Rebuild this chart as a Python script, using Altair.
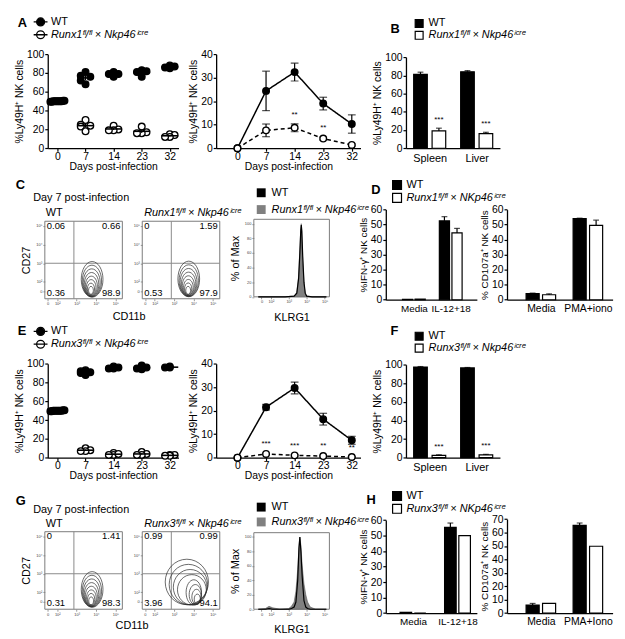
import altair as alt
import pandas as pd

S = 0.98
FONT = "Liberation Sans"


def s(v):
    return round(v * S, 2)


# ------------------------------------------------------------------ data
DAY_LABELS = ["0", "7", "14", "23", "32"]
WT = "WT"
RUNX1 = "Runx1ᶠˡ/ᶠˡ × Nkp46ⁱᶜʳᵉ"
RUNX1_K = "Runx1ᶠˡ/ᶠˡ × NKp46ⁱᶜʳᵉ"
RUNX3 = "Runx3ᶠˡ/ᶠˡ × Nkp46ⁱᶜʳᵉ"
RUNX3_K = "Runx3ᶠˡ/ᶠˡ × NKp46ⁱᶜʳᵉ"
LY49H = "%Ly49H⁺ NK cells"

# A left / E left : % Ly49H+ of NK cells, one value per mouse, per day
A_WT = [[50, 50, 50, 50, 49.5, 50.5], [81, 77, 76, 72, 68], [81, 79, 79, 76],
        [83, 82, 81, 76], [87, 86, 85, 88]]
A_KO = [[50, 50, 49.5, 50, 50.5], [30, 25, 24, 23, 18], [24, 20, 19, 19],
        [23, 17, 16, 16], [15, 14, 12, 12]]
E_WT = [[50, 50, 50, 50, 49.5, 50.5], [93, 92, 91, 90, 88], [97, 96, 95, 95],
        [98, 96, 95, 94], [97, 96, 96]]
E_KO = [[50, 50, 49.5, 50, 50.5], [10, 8, 7, 7], [5, 3, 3, 4], [6, 4, 3, 3],
        [3, 3, 2, 2]]

# A right / E right : mean and SEM
A2_WT_M = [0, 24.4, 32.4, 19.0, 10.3]
A2_WT_E = [0, 8.4, 3.8, 2.7, 3.9]
A2_KO_M = [0, 7.6, 8.7, 4.1, 1.4]
A2_KO_E = [0, 2.7, 1.7, 0.6, 0.4]
A2_STARS = ["", "", "**", "**", ""]
E2_WT_M = [0, 21.5, 29.7, 16.4, 7.4]
E2_WT_E = [0, 1.2, 2.5, 2.5, 1.7]
E2_KO_M = [0, 1.6, 1.0, 0.7, 0.3]
E2_KO_E = [0, 0.3, 0.3, 0.3, 0.2]
E2_STARS = ["", "***", "***", "**", "**"]

# B / F
ORGANS = ["Spleen", "Liver"]
B_WT, B_WT_E, B_KO, B_KO_E = [81, 84], [2.5, 1.2], [19, 16], [3.0, 1.5]
F_WT, F_WT_E, F_KO, F_KO_E = [97.5, 96.5], [0.5, 0.5], [2.5, 3.0], [0.6, 0.6]
ORGAN_STARS = ["***", "***"]

# D / H
IFN_CATS = ["Media", "IL-12+18"]
D_CD107_CATS = ["Media", "PMA+iono"]
H_CD107_CATS = ["Media", "PMA+Iono"]
D1_WT, D1_WT_E, D1_KO, D1_KO_E = [0.3, 52.5], [0, 2.8], [0.4, 44.5], [0, 3.0]
D2_WT, D2_WT_E, D2_KO, D2_KO_E = [4.0, 54.0], [0.4, 0.3], [3.3, 49.5], [0.6, 3.5]
H1_WT, H1_WT_E, H1_KO, H1_KO_E = [0.5, 55.3], [0, 2.8], [0.0, 50.0], [0, 0]
H2_WT, H2_WT_E, H2_KO, H2_KO_E = [6.0, 65.3], [1.2, 1.8], [7.3, 49.8], [0, 0]
NO_STARS = ["", ""]

# Flow: quadrant frequencies [top-left, top-right, bottom-left, bottom-right]
C_WT_Q = ["0.06", "0.66", "0.36", "98.9"]
C_KO_Q = ["0", "1.59", "0.53", "97.9"]
G_WT_Q = ["0", "1.41", "0.31", "98.3"]
G_KO_Q = ["0.99", "0.99", "3.96", "94.1"]
FLOW_X = [1.36, 5.36]        # log10 CD11b axis extent
FLOW_Y = [1.1, 5.25]         # log10 CD27 axis extent
GATE_X, GATE_Y = 2.86, 3.0
FLOW_TICKS = [1.5, 2, 3, 4, 5]
FLOW_TICK_LABELS = ["0", "10²", "10³", "10⁴", "10⁵"]

# contour rings (level 9 = outermost), centres in log10 units
RING = [9, 8, 7, 6, 5, 4, 3, 2]
C_WT_CX = [3.80, 3.79, 3.78, 3.77, 3.76, 3.75, 3.74, 3.74]
C_WT_CY = [2.14, 2.05, 1.96, 1.87, 1.78, 1.70, 1.62, 1.55]
C_KO_CX = [3.76, 3.76, 3.75, 3.75, 3.74, 3.74, 3.73, 3.73]
C_KO_CY = [2.16, 2.07, 1.98, 1.89, 1.80, 1.71, 1.63, 1.55]
G_WT_CX = [3.80, 3.79, 3.78, 3.77, 3.76, 3.76, 3.75, 3.75]
G_WT_CY = [2.16, 2.07, 1.98, 1.89, 1.80, 1.71, 1.63, 1.55]
G_KO_CX = [3.66, 3.74, 3.83, 3.92, 4.02, 4.10, 4.16, 4.20]
G_KO_CY = [2.56, 2.42, 2.28, 2.14, 2.00, 1.88, 1.76, 1.64]
TALL_FORM = ["tall"] * 8
G_KO_FORM = ["round", "round", "round", "round", "tall", "tall", "tall", "tall"]
TALL = "M-0.61,0A0.61,1,0,1,1,0.61,0A0.61,1,0,1,1,-0.61,0Z"
ROUND = "M-0.95,0A0.95,1,0,1,1,0.95,0A0.95,1,0,1,1,-0.95,0Z"

# KLRG1 histograms (% of max)
HIST_X_DOMAIN = [1.05, 5.27]
HIST_TICKS = [1.48, 2, 3, 4, 5]
C_HX = [1.3, 2.0, 2.8, 3.3, 3.45, 3.55, 3.62, 3.67, 3.7, 3.73, 3.78, 3.85, 3.92, 4.0, 4.3, 5.1]
C_H_WT = [0, 0, 0, 1, 5, 25, 60, 90, 98, 90, 55, 20, 5, 1, 0, 0]
C_H_KO = [0, 0, 0, 1, 6, 28, 65, 93, 100, 85, 50, 18, 4, 1, 0, 0]
G_HX = [1.3, 1.7, 1.9, 2.1, 2.5, 3.0, 3.15, 3.3, 3.4, 3.5, 3.57, 3.62, 3.68, 3.75,
        3.85, 3.95, 4.05, 4.2, 4.5, 5.1]
G_H_KO = [0, 1, 4, 2, 0, 1, 4, 10, 25, 55, 85, 100, 88, 60, 35, 20, 10, 3, 0, 0]
G_H_WT = [0, 0, 1, 0, 0, 0, 1, 3, 10, 40, 85, 100, 80, 45, 12, 3, 1, 0, 0, 0]


# ------------------------------------------------------------------ helpers
def geom(L, T, W, H, pl, pt, pr, pb):
    return dict(L=L, T=T, W=s(W), H=s(H), xr=[s(pl - L), s(pr - L)],
                yr=[s(pb - T), s(pt - T)], yoff=-s(pl - L), xoff=s(pb - T) - s(H))


def ax(**kw):
    base = dict(grid=False, domainColor="black", domainWidth=1.3, tickColor="black",
                tickWidth=1.2, tickSize=3, labelFont=FONT, labelFontSize=10.5,
                labelColor="black", titleFont=FONT, titleFontSize=10.5,
                titleFontWeight="normal", titleColor="black", labelPadding=1,
                titlePadding=2, labelFlush=False)
    base.update(kw)
    return alt.Axis(**base)


def tiny_ax(offset, labels, ticks, title=None, **kw):
    expr = "[" + ",".join(f"'{t}'" for t in labels) + "][indexof([" + \
        ",".join(str(v) for v in ticks) + "], datum.value)]"
    return ax(values=ticks, labelExpr=expr, labelFontSize=4, tickSize=2, tickWidth=0.6,
              domain=False, labelColor="#444", tickColor="#555", labelPadding=1,
              offset=offset, title=title, titleFontSize=11, **kw)


def cat_expr(labels):
    return "[" + ",".join(f"'{t}'" for t in labels) + "][datum.value]"


def note(t, x, y, g, size=11, weight="normal", style="normal", align="left",
         angle=0):
    return alt.Chart(pd.DataFrame({"t": [t]})).mark_text(
        font=FONT, fontSize=size, fontWeight=weight, fontStyle=style, align=align,
        baseline="middle", angle=angle, color="black"
    ).encode(x=alt.value(s(x - g["L"])), y=alt.value(s(y - g["T"])), text="t:N")


def anchor(g):
    # invisible edge that pins each row's box to its own height
    return alt.Chart(pd.DataFrame({"a": [0]})).mark_rule(opacity=0).encode(
        x=alt.value(0), y=alt.value(0), y2=alt.value(g["H"]))


def legend(g, x, y, symbol, size=64, stroke="black", sw=1.2, row_pad=3, label_offset=4):
    return alt.Legend(orient="none", legendX=s(x - g["L"]), legendY=s(y - g["T"]),
                      title=None, direction="vertical", symbolType=symbol,
                      symbolSize=size, symbolStrokeColor=stroke, symbolStrokeWidth=sw,
                      symbolOpacity=1, labelFont=FONT, labelFontSize=11,
                      labelColor="black", labelLimit=400,
                      labelFontStyle={"expr": "datum.label == 'WT' ? 'normal' : 'italic'"},
                      rowPadding=row_pad, labelOffset=label_offset, padding=0)


LINE_SYMBOL = "M-1.75,0L1.75,0M-1,0A1,1,0,1,1,1,0A1,1,0,1,1,-1,0Z"


def day_axes(g, ytitle, yvals):
    xax = ax(values=[0, 1, 2, 3, 4], labelExpr=cat_expr(DAY_LABELS),
             title="Days post-infection", offset=g["xoff"], labelPadding=0,
             titlePadding=0)
    yax = ax(values=yvals, title=ytitle, offset=g["yoff"])
    return xax, yax


def dot_panel(wt, ko, ko_label, g, leg):
    rows = []
    for geno, series in ((ko_label, ko), (WT, wt)):
        for i, vals in enumerate(series):
            for v in vals:
                rows.append({"geno": geno, "idx": i, "v": v})
    df = pd.DataFrame(rows)
    xs = alt.Scale(domain=[-0.345, 4.31], range=g["xr"], nice=False, zero=False)
    ys = alt.Scale(domain=[0, 100], range=g["yr"], nice=False)
    xax, yax = day_axes(g, LY49H, [0, 20, 40, 60, 80, 100])
    fills = alt.Scale(domain=[WT, ko_label], range=["black", "white"])
    base = alt.Chart(df)
    pts = base.transform_window(
        rank="row_number()", groupby=["geno", "idx"], sort=[alt.SortField("v")]
    ).transform_window(
        cnt="count()", groupby=["geno", "idx"], frame=[None, None]
    ).transform_calculate(
        xj="datum.idx + (datum.idx == 0 ? (datum.rank - (datum.cnt + 1) / 2) * 0.1 : "
           "((datum.rank == 1 || datum.rank == datum.cnt) ? 0 : "
           "(datum.rank % 2 == 0 ? -0.17 : 0.17)))"
    ).mark_point(shape="circle", size=46, stroke="black", strokeWidth=1.3, opacity=1).encode(
        x=alt.X("xj:Q", scale=xs, axis=xax),
        y=alt.Y("v:Q", scale=ys, axis=yax),
        fill=alt.Fill("geno:N", scale=fills, legend=leg),
    )
    mean = base.transform_aggregate(
        m="mean(v)", se="stderr(v)", groupby=["geno", "idx"]
    ).transform_calculate(
        x1="datum.idx - 0.3", x2="datum.idx + 0.3",
        lo="datum.m - datum.se", hi="datum.m + datum.se")
    sem = mean.mark_rule(color="black", strokeWidth=1.1).encode(
        x=alt.X("idx:Q", scale=xs, axis=xax), y=alt.Y("lo:Q", scale=ys, axis=yax),
        y2="hi:Q")
    mline = mean.mark_rule(color="black", strokeWidth=1.6).encode(
        x=alt.X("x1:Q", scale=xs, axis=xax), x2="x2:Q",
        y=alt.Y("m:Q", scale=ys, axis=yax))
    return pts + sem + mline


def line_panel(wm, we, km, ke, stars, ko_label, g):
    df = pd.DataFrame({"geno": [WT] * 5 + [ko_label] * 5, "idx": list(range(5)) * 2,
                       "m": wm + km, "e": we + ke, "star": [""] * 5 + stars})
    xs = alt.Scale(domain=[-0.746, 4.305], range=g["xr"], nice=False, zero=False)
    ys = alt.Scale(domain=[0, 40], range=g["yr"], nice=False)
    xax, yax = day_axes(g, LY49H, [0, 10, 20, 30, 40])
    base = alt.Chart(df).transform_calculate(lo="datum.m - datum.e", hi="datum.m + datum.e")
    X = alt.X("idx:Q", scale=xs, axis=xax)
    line = base.mark_line(color="black", strokeWidth=1.5).encode(
        x=X, y=alt.Y("m:Q", scale=ys, axis=yax),
        strokeDash=alt.StrokeDash("geno:N", scale=alt.Scale(domain=[WT, ko_label],
                                  range=[[1, 0], [4, 3]]), legend=None))
    eb = base.transform_filter("datum.e > 0")
    err = eb.mark_rule(color="black", strokeWidth=1.2).encode(
        x=X, y=alt.Y("lo:Q", scale=ys, axis=yax), y2="hi:Q")
    cap_hi = eb.mark_tick(orient="horizontal", size=s(8), thickness=1.2, color="black").encode(
        x=X, y=alt.Y("hi:Q", scale=ys, axis=yax))
    cap_lo = eb.mark_tick(orient="horizontal", size=s(8), thickness=1.2, color="black").encode(
        x=X, y=alt.Y("lo:Q", scale=ys, axis=yax))
    pts = base.mark_point(shape="circle", size=44, stroke="black", strokeWidth=1.4,
                          opacity=1).encode(
        x=X, y=alt.Y("m:Q", scale=ys, axis=yax),
        fill=alt.Fill("geno:N", scale=alt.Scale(domain=[WT, ko_label],
                      range=["black", "white"]), legend=None))
    st = base.transform_filter("datum.star != ''").mark_text(
        font=FONT, fontSize=8, dy=-5, color="black", baseline="bottom").encode(
        x=X, y=alt.Y("hi:Q", scale=ys, axis=yax), text="star:N")
    return line + err + cap_hi + cap_lo + pts + st


def bar_panel(cats, wv, we, kv, ke, stars, ko_label, g, ymax, ystep, ytitle, lay, leg,
              title_size=10.5, label_size=11):
    """lay = (domain_lo, domain_hi, half bar width, pair offset) in category units"""
    lo, hi, half, off = lay
    n = len(cats)
    df = pd.DataFrame({"ci": list(range(n)) * 2, "geno": [WT] * n + [ko_label] * n,
                       "v": wv + kv, "e": we + ke, "star": [""] * n + stars})
    xs = alt.Scale(domain=[lo, hi], range=g["xr"], nice=False, zero=False)
    ys = alt.Scale(domain=[0, ymax], range=g["yr"], nice=False)
    xax = ax(values=list(range(n)), labelExpr=cat_expr(cats), title=None,
             offset=g["xoff"], ticks=False, labelPadding=4, labelFontSize=label_size)
    yax = ax(values=list(range(0, ymax + 1, ystep)), title=ytitle, offset=g["yoff"],
             titleFontSize=title_size)
    base = alt.Chart(df).transform_calculate(
        pos=f"datum.ci + (datum.geno == 'WT' ? {-off} : {off})"
    ).transform_calculate(
        x1=f"datum.pos - {half}", x2=f"datum.pos + {half}", hi="datum.v + datum.e")
    bars = base.mark_bar(stroke="black", strokeWidth=1.2, opacity=1).encode(
        x=alt.X("x1:Q", scale=xs, axis=xax), x2="x2:Q",
        y=alt.Y("v:Q", scale=ys, axis=yax), y2=alt.datum(0),
        fill=alt.Fill("geno:N", scale=alt.Scale(domain=[WT, ko_label],
                      range=["black", "white"]), legend=leg))
    X = alt.X("pos:Q", scale=xs, axis=xax)
    eb = base.transform_filter("datum.e > 0")
    err = eb.mark_rule(color="black", strokeWidth=1.2).encode(
        x=X, y=alt.Y("v:Q", scale=ys, axis=yax), y2="hi:Q")
    cap = eb.mark_tick(orient="horizontal", size=s(6), thickness=1.2, color="black").encode(
        x=X, y=alt.Y("hi:Q", scale=ys, axis=yax))
    st = base.transform_filter("datum.star != ''").mark_text(
        font=FONT, fontSize=8, dy=-4, color="black", baseline="bottom").encode(
        x=X, y=alt.Y("hi:Q", scale=ys, axis=yax), text="star:N")
    return bars + err + cap + st


def flow_panel(quads, cx, cy, forms, ry_max, g, ytitle=None):
    xs = alt.Scale(domain=FLOW_X, range=g["xr"], nice=False, zero=False)
    ys = alt.Scale(domain=FLOW_Y, range=g["yr"], nice=False, zero=False)
    xax = tiny_ax(g["xoff"], FLOW_TICK_LABELS, FLOW_TICKS)
    yax = tiny_ax(g["yoff"], FLOW_TICK_LABELS, FLOW_TICKS, title=ytitle, titlePadding=4)
    frame_df = pd.DataFrame({"x0": [FLOW_X[0]], "x1": [FLOW_X[1]],
                             "y0": [FLOW_Y[0]], "y1": [FLOW_Y[1]],
                             "gx": [GATE_X], "gy": [GATE_Y]})
    fb = alt.Chart(frame_df)
    frame = fb.mark_rect(fillOpacity=0, stroke="#7a7a7a", strokeWidth=1).encode(
        x=alt.X("x0:Q", scale=xs, axis=xax), x2="x1:Q",
        y=alt.Y("y0:Q", scale=ys, axis=yax), y2="y1:Q")
    vg = fb.mark_rule(color="#8a8a8a", strokeWidth=1).encode(
        x=alt.X("gx:Q", scale=xs, axis=xax), y=alt.Y("y0:Q", scale=ys, axis=yax), y2="y1:Q")
    hg = fb.mark_rule(color="#8a8a8a", strokeWidth=1).encode(
        x=alt.X("x0:Q", scale=xs, axis=xax), x2="x1:Q", y=alt.Y("gy:Q", scale=ys, axis=yax))
    rdf = pd.DataFrame({"ring": RING, "cx": cx, "cy": cy, "form": forms})
    rings = alt.Chart(rdf).mark_point(filled=False, stroke="#2a2a2a", strokeWidth=0.7,
                                      opacity=1).encode(
        x=alt.X("cx:Q", scale=xs, axis=xax), y=alt.Y("cy:Q", scale=ys, axis=yax),
        size=alt.Size("ring:Q", scale=alt.Scale(type="pow", exponent=2, domain=[0, 9],
                      range=[0, (2 * ry_max) ** 2]), legend=None),
        shape=alt.Shape("form:N", scale=alt.Scale(domain=["tall", "round"],
                        range=[TALL, ROUND]), legend=None))
    qdf = pd.DataFrame({"pct": quads, "qx": [0, 1, 0, 1], "qy": [1, 1, 0, 0]})
    qb = alt.Chart(qdf).transform_calculate(
        x=f"datum.qx == 1 ? {FLOW_X[1]} : {FLOW_X[0]}",
        y=f"datum.qy == 1 ? {FLOW_Y[1] - 0.25} : {FLOW_Y[0] + 0.32}")
    ql = qb.transform_filter("datum.qx == 0").mark_text(
        font=FONT, fontSize=9.5, align="left", dx=2, color="black").encode(
        x=alt.X("x:Q", scale=xs, axis=xax), y=alt.Y("y:Q", scale=ys, axis=yax), text="pct:N")
    qr = qb.transform_filter("datum.qx == 1").mark_text(
        font=FONT, fontSize=9.5, align="right", dx=-2, color="black").encode(
        x=alt.X("x:Q", scale=xs, axis=xax), y=alt.Y("y:Q", scale=ys, axis=yax), text="pct:N")
    return frame + vg + hg + rings + ql + qr


def hist_panel(hx, wt_y, ko_y, ko_label, g, leg):
    df = pd.DataFrame({"x": hx * 2, "pct": wt_y + ko_y,
                       "geno": [WT] * len(hx) + [ko_label] * len(hx)})
    xs = alt.Scale(domain=HIST_X_DOMAIN, range=g["xr"], nice=False, zero=False)
    ys = alt.Scale(domain=[0, 106], range=g["yr"], nice=False)
    xax = tiny_ax(g["xoff"], FLOW_TICK_LABELS, HIST_TICKS, title="KLRG1", titlePadding=8)
    yvals = [0, 20, 40, 60, 80, 100]
    yax = tiny_ax(g["yoff"], [str(v) for v in yvals], yvals, title="% of Max",
                  titlePadding=4)
    base = alt.Chart(df)
    area = base.transform_filter(alt.datum.geno == ko_label).mark_area(
        stroke="#5a5a5a", strokeWidth=0.6, opacity=1).encode(
        x=alt.X("x:Q", scale=xs, axis=xax), y=alt.Y("pct:Q", scale=ys, axis=yax),
        fill=alt.Fill("geno:N", scale=alt.Scale(domain=[WT, ko_label],
                      range=["black", "#808080"]), legend=leg))
    line = base.transform_filter(alt.datum.geno == WT).mark_line(
        color="black", strokeWidth=1.2).encode(
        x=alt.X("x:Q", scale=xs, axis=xax), y=alt.Y("pct:Q", scale=ys, axis=yax))
    frame_df = pd.DataFrame({"x0": [HIST_X_DOMAIN[0]], "x1": [HIST_X_DOMAIN[1]],
                             "y0": [0], "y1": [106]})
    frame = alt.Chart(frame_df).mark_rect(fillOpacity=0, stroke="#7a7a7a",
                                          strokeWidth=1).encode(
        x=alt.X("x0:Q", scale=xs, axis=xax), x2="x1:Q",
        y=alt.Y("y0:Q", scale=ys, axis=yax), y2="y1:Q")
    return frame + area + line


def sized(ch, g):
    return ch.properties(width=g["W"], height=g["H"])


# ------------------------------------------------------------------ geometry (reference px)
R1, R2, R3, R4 = (0, 168), (168, 153), (321, 169), (490, 149)
gA1 = geom(0, R1[0], 190, R1[1], 40, 43, 175, 140)
gA2 = geom(190, R1[0], 195, R1[1], 213, 43, 362, 140)
gB = geom(385, R1[0], 238, R1[1], 408, 46, 505, 140)
gC1 = geom(0, R2[0], 127, R2[1], 37, 215, 117, 295)
gC2 = geom(127, R2[0], 108, R2[1], 137, 215, 217, 295)
gC3 = geom(235, R2[0], 110, R2[1], 252, 213, 330, 293)
gD1 = geom(345, R2[0], 155, R2[1], 388, 203, 482, 296)
gD2 = geom(500, R2[0], 125, R2[1], 513, 203, 622, 296)
gE1 = geom(0, R3[0], 190, R3[1], 40, 362, 175, 459)
gE2 = geom(190, R3[0], 195, R3[1], 213, 362, 362, 459)
gF = geom(385, R3[0], 238, R3[1], 408, 363, 505, 459)
gG1 = geom(0, R4[0], 127, R4[1], 37, 535, 117, 615)
gG2 = geom(127, R4[0], 108, R4[1], 137, 535, 217, 615)
gG3 = geom(235, R4[0], 110, R4[1], 252, 536, 330, 615)
gH1 = geom(345, R4[0], 155, R4[1], 388, 523, 482, 619)
gH2 = geom(500, R4[0], 125, R4[1], 513, 522, 622, 619)

# bar layouts: (domain lo, domain hi, half bar width, pair offset), category units
ORG_LAY = (-0.505, 1.495, 0.145, 0.196)
D1_LAY = (-0.763, 1.71, 0.138, 0.171)
H1_LAY = (-0.61, 1.435, 0.13, 0.16)
R_LAY = (-0.72, 1.526, 0.139, 0.175)

# ------------------------------------------------------------------ panels
A1 = sized(anchor(gA1) + dot_panel(A_WT, A_KO, RUNX1, gA1,
                     legend(gA1, 27, 4, LINE_SYMBOL, size=64, sw=1.3, row_pad=-10, label_offset=5))
           + note("A", 9, 11, gA1, size=13, weight="bold"), gA1)
A2 = sized(line_panel(A2_WT_M, A2_WT_E, A2_KO_M, A2_KO_E, A2_STARS, RUNX1, gA2), gA2)
B = sized(bar_panel(ORGANS, B_WT, B_WT_E, B_KO, B_KO_E, ORGAN_STARS, RUNX1, gB, 100, 20,
                    LY49H, ORG_LAY, legend(gB, 416, 5.6, "square", size=64, row_pad=-2))
          + note("B", 392, 17, gB, size=13, weight="bold"), gB)

C1 = sized(anchor(gC1) + flow_panel(C_WT_Q, C_WT_CX, C_WT_CY, TALL_FORM, 18, gC1, ytitle="CD27")
           + note("C", 7, 178, gC1, size=13, weight="bold")
           + note("Day 7 post-infection", 25, 191, gC1)
           + note("WT", 38, 207, gC1)
           + note("CD11b", 124, 314, gC1, align="center"), gC1)
C2 = sized(flow_panel(C_KO_Q, C_KO_CX, C_KO_CY, TALL_FORM, 18, gC2)
           + note(RUNX1, 139, 207, gC2, style="italic"), gC2)
C3 = sized(hist_panel(C_HX, C_H_WT, C_H_KO, RUNX1, gC3,
                      legend(gC3, 254, 180, "square", size=81, sw=0, row_pad=5, label_offset=5)),
           gC3)
D1 = sized(bar_panel(IFN_CATS, D1_WT, D1_WT_E, D1_KO, D1_KO_E, NO_STARS, RUNX1_K, gD1, 60, 10,
                     "%IFN-γ⁺ NK cells", D1_LAY,
                     legend(gD1, 394, 172, "square", size=81, row_pad=-2, label_offset=4),
                     title_size=10, label_size=10)
           + note("D", 373, 183, gD1, size=13, weight="bold"), gD1)
D2 = sized(bar_panel(D_CD107_CATS, D2_WT, D2_WT_E, D2_KO, D2_KO_E, NO_STARS, RUNX1_K, gD2, 60,
                     10, "% CD107a⁺ NK cells", R_LAY, None, title_size=10, label_size=10.5),
           gD2)

E1 = sized(anchor(gE1) + dot_panel(E_WT, E_KO, RUNX3, gE1,
                     legend(gE1, 27, 323, LINE_SYMBOL, size=64, sw=1.3, row_pad=-5, label_offset=5))
           + note("E", 9, 328, gE1, size=13, weight="bold"), gE1)
E2 = sized(line_panel(E2_WT_M, E2_WT_E, E2_KO_M, E2_KO_E, E2_STARS, RUNX3, gE2), gE2)
F = sized(bar_panel(ORGANS, F_WT, F_WT_E, F_KO, F_KO_E, ORGAN_STARS, RUNX3, gF, 100, 20,
                    LY49H, ORG_LAY, legend(gF, 416, 328, "square", size=64, row_pad=-1))
          + note("F", 392, 328, gF, size=13, weight="bold"), gF)

G1 = sized(anchor(gG1) + flow_panel(G_WT_Q, G_WT_CX, G_WT_CY, TALL_FORM, 18, gG1, ytitle="CD27")
           + note("G", 7, 503, gG1, size=13, weight="bold")
           + note("Day 7 post-infection", 25, 513, gG1)
           + note("WT", 38, 527, gG1)
           + note("CD11b", 127, 632, gG1, align="center"), gG1)
G2 = sized(flow_panel(G_KO_Q, G_KO_CX, G_KO_CY, G_KO_FORM, 23, gG2)
           + note(RUNX3, 139, 527, gG2, style="italic"), gG2)
G3 = sized(hist_panel(G_HX, G_H_WT, G_H_KO, RUNX3, gG3,
                      legend(gG3, 254, 504, "square", size=81, sw=0, row_pad=3, label_offset=5)),
           gG3)
H1 = sized(bar_panel(IFN_CATS, H1_WT, H1_WT_E, H1_KO, H1_KO_E, NO_STARS, RUNX3_K, gH1, 60, 10,
                     "%IFN-γ⁺ NK cells", H1_LAY,
                     legend(gH1, 394, 492.5, "square", size=81, row_pad=-2, label_offset=4),
                     title_size=10, label_size=10)
           + note("H", 368, 502, gH1, size=13, weight="bold"), gH1)
H2 = sized(bar_panel(H_CD107_CATS, H2_WT, H2_WT_E, H2_KO, H2_KO_E, NO_STARS, RUNX3_K, gH2, 70,
                     10, "% CD107a⁺ NK cells", R_LAY, None, title_size=10, label_size=10.5),
           gH2)

RES = dict(fill="independent", strokeDash="independent", size="independent",
           shape="independent")


def row(*charts):
    return alt.hconcat(*charts, spacing=0, bounds="flush").resolve_scale(**RES) \
        .resolve_legend(fill="independent")


chart = alt.vconcat(
    row(A1, A2, B), row(C1, C2, C3, D1, D2), row(E1, E2, F), row(G1, G2, G3, H1, H2),
    spacing=0,
).resolve_scale(**RES).resolve_legend(fill="independent").properties(padding=1) \
    .configure(font=FONT).configure_view(stroke=None, strokeWidth=0)

chart.save("out.html", embed_options={"renderer": "svg", "actions": False})
